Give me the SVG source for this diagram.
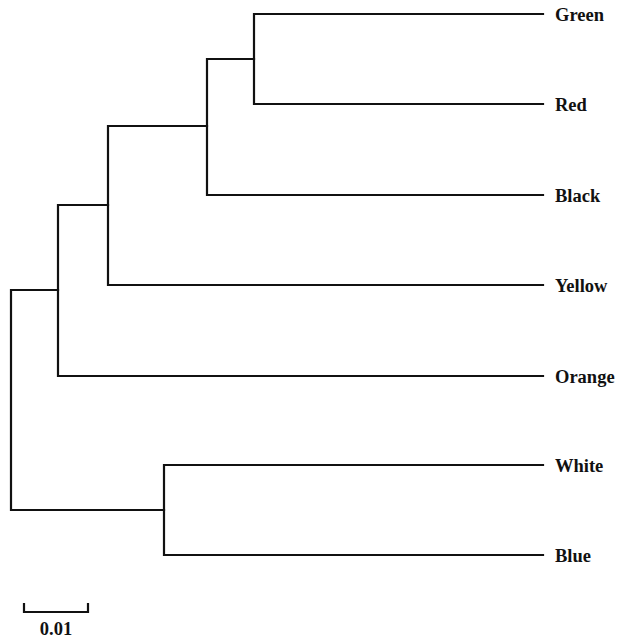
<svg xmlns="http://www.w3.org/2000/svg" width="617" height="641" viewBox="0 0 617 641">
<style>
.br{fill:none;stroke:#111;stroke-width:2.2;stroke-linecap:square}
.lb{font-family:"Liberation Serif","Times New Roman",serif;font-weight:bold;font-size:18.5px;fill:#111}
</style>
<rect width="617" height="641" fill="#fff"/>
<g id="connectors">
<path class="br" d="M254,14 H543 M254,104 H543 M254,14 V104"/>
<path class="br" d="M207,59 H254 M207,195 H543 M207,59 V195"/>
<path class="br" d="M108,126 H207 M108,285 H543 M108,126 V285"/>
<path class="br" d="M58,205 H108 M58,376 H543 M58,205 V376"/>
<path class="br" d="M164,465 H543 M164,555 H543 M164,465 V555"/>
<path class="br" d="M11,290 H58 M11,510 H164 M11,290 V510"/>
</g>
<g id="green"><text class="lb" x="555" y="20.5">Green</text></g>
<g id="red"><text class="lb" x="555" y="110.5">Red</text></g>
<g id="black"><text class="lb" x="555" y="201.5">Black</text></g>
<g id="yellow"><text class="lb" x="555" y="291.5">Yellow</text></g>
<g id="orange"><text class="lb" x="555" y="382.5">Orange</text></g>
<g id="white"><text class="lb" x="555" y="471.5">White</text></g>
<g id="blue"><text class="lb" x="555" y="561.5">Blue</text></g>
<g id="scale">
<path class="br" d="M24,604 V612 H88 V604"/>
<text class="lb" x="56" y="635" text-anchor="middle">0.01</text>
</g>
</svg>
